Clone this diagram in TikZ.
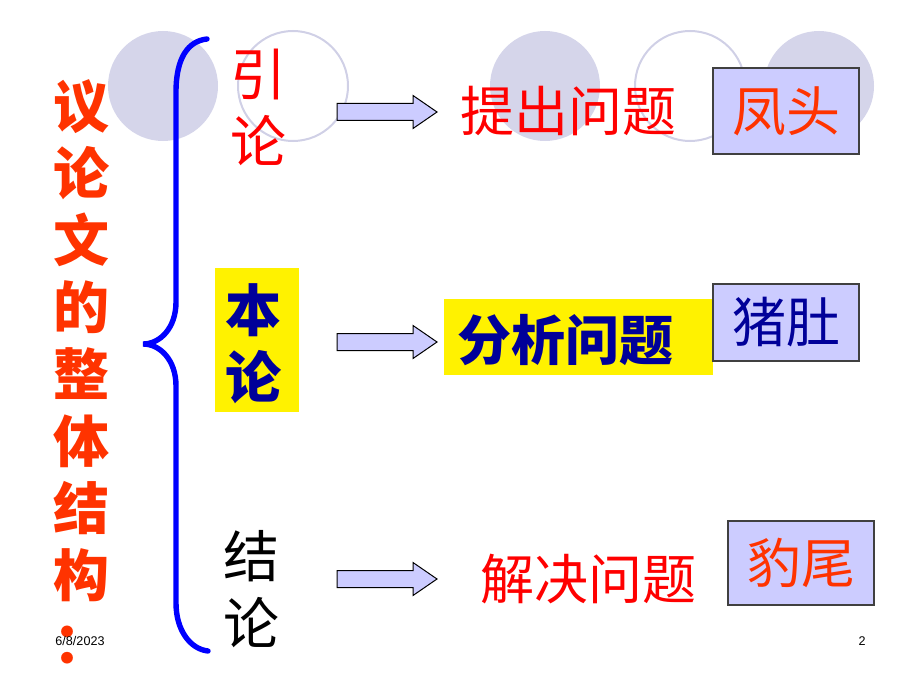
\documentclass[tikz,border=0pt]{standalone}
\usepackage{fontspec}
\setmainfont{Liberation Sans}
\newfontfamily\cjk{Noto Sans CJK SC}
\usepackage{xcolor}
\definecolor{orangered}{HTML}{FF3300}
\definecolor{darkblue}{HTML}{000099}
\definecolor{lavender}{HTML}{CCCCFF}
\definecolor{discgray}{HTML}{D5D5EA}
\definecolor{ringgray}{HTML}{D0D0E6}
\tikzset{
  disc/.style={circle,fill=discgray,draw=none,minimum size=110pt*0.5,inner sep=0pt},
  ring/.style={circle,draw=ringgray,line width=1pt,minimum size=110pt*0.5,inner sep=0pt},
  vtext/.style={align=center,inner sep=0pt,font=\cjk\fontsize{28}{33.5}\selectfont},
  htext/.style={inner sep=0pt,font=\cjk\fontsize{27}{33.5}\selectfont},
  namebox/.style={rectangle,fill=lavender,draw=black!75,line width=1pt,inner sep=0pt,
    minimum width=73pt,font=\cjk\fontsize{27}{33.5}\selectfont},
  hilite/.style={rectangle,fill=yellow,draw=none,inner sep=0pt},
  blockarrow/.style={fill=lavender,draw=black,line width=0.5pt,line join=miter},
  pics/fatarrow/.style={code={
    \draw[blockarrow] (-50,-8.5) -- (26,-8.5) -- (26,-16.5) -- (50,0)
      -- (26,16.5) -- (26,8.5) -- (-50,8.5) -- cycle;}},
  foot/.style={inner sep=0pt,font=\fontsize{6.3}{7}\selectfont}
}
\begin{document}
\begin{tikzpicture}[x=0.5pt,y=-0.5pt]
\useasboundingbox (0,0) rectangle (920,690);
% circles in the background
\node (c1) [disc] at (163,86) {};
\node (c2) [ring] at (293,86) {};
\node (c3) [disc] at (545,86) {};
\node (c4) [ring] at (690,86) {};
\node (c5) [disc] at (819,86) {};
% title column
\node (title) [vtext,text=orangered,font=\cjk\bfseries\fontsize{28}{33.5}\selectfont] at (82,372)
  {议\\论\\文\\的\\整\\体\\结\\构\\：};
% brace
\draw[blue,line width=2.7pt,line cap=round] (207,39) .. controls (188,41) and (176,58) .. (176,92)
  -- (176,302) .. controls (176,328) and (160,344) .. (143,344)
  .. controls (160,344) and (176,360) .. (176,386)
  -- (176,603) .. controls (176,630) and (190,649) .. (208,651);
% the three parts
\node (yin) [vtext,text=red] at (258,107) {引\\论};
\node (ben) [hilite,minimum width=42pt,minimum height=72pt] at (257,340) {};
\node (benl) [vtext,text=darkblue,font=\cjk\bfseries\fontsize{28}{33.5}\selectfont] at (253,344) {本\\论};
\node (jie) [vtext,text=black] at (251,589) {结\\论};
% arrows
\pic (a1) at (387,112) {fatarrow};
\pic (a2) at (387,342) {fatarrow};
\pic (a3) at (387,579) {fatarrow};
% what each part does
\node (p1) [htext,text=red] at (568,111) {提出问题};
\node (p2box) [hilite,minimum width=134.5pt,minimum height=38pt] at (578,337) {};
\node (p2) [htext,text=darkblue,font=\cjk\bfseries\fontsize{27}{33.5}\selectfont] at (565,340) {分析问题};
\node (p3) [htext,text=red] at (588,579) {解决问题};
% boxes
\node (b1) [namebox,minimum height=42.5pt,text=orangered] at (786,111) {凤头};
\node (b2) [namebox,minimum height=38.5pt,text=darkblue] at (786,322) {猪肚};
\node (b3) [namebox,minimum height=42pt,text=orangered] at (801,563) {豹尾};
% footer
\node (date) [foot] at (80,641) {6/8/2023};
\node (page) [foot] at (862,641) {2};
\end{tikzpicture}
\end{document}
